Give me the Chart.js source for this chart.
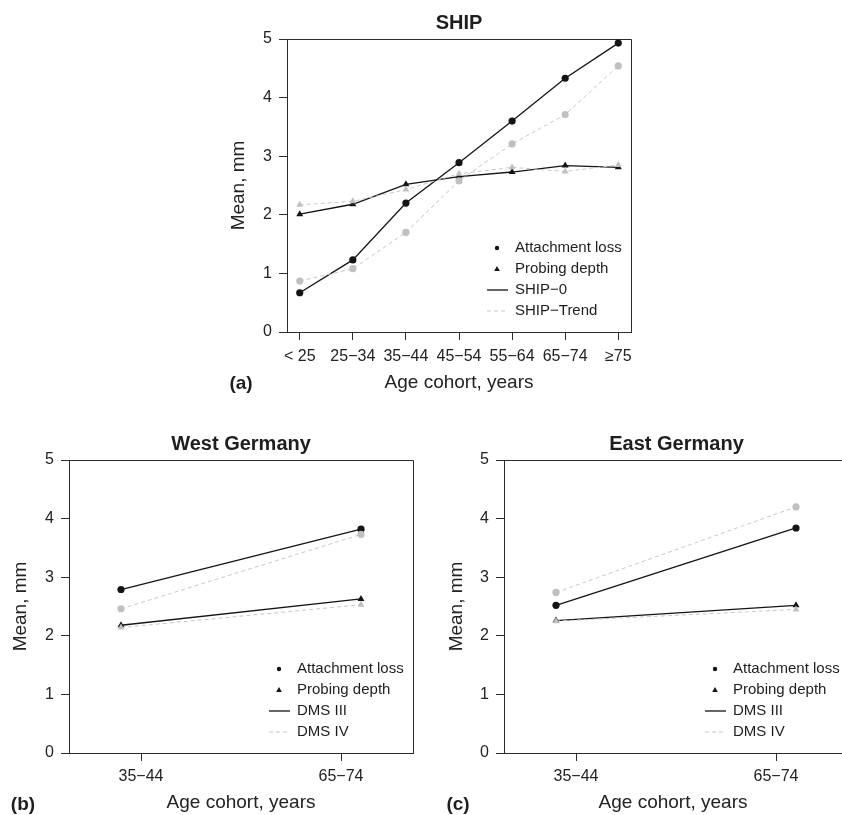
<!DOCTYPE html>
<html>
<head>
<meta charset="utf-8">
<script src="https://cdn.jsdelivr.net/npm/chart.js@4.4.0/dist/chart.umd.min.js"></script>
<style>
html, body { margin: 0; padding: 0; background: #fff; overflow: hidden; }
#wrap { position: relative; width: 842px; height: 815px; overflow: hidden; }
canvas { position: absolute; }
</style>
</head>
<body>
<div id="wrap">
  <canvas id="ship-chart" width="451" height="400" style="left:200px;top:0"></canvas>
  <canvas id="west-chart" width="440" height="405" style="left:0;top:410px"></canvas>
  <canvas id="east-chart" width="422" height="405" style="left:420px;top:410px"></canvas>
</div>
<script>
// DATA
const shipCats = ['< 25', '25\u221234', '35\u221244', '45\u221254', '55\u221264', '65\u221274', '\u226575'];
const shipTicks = [0, 1, 2, 3, 4, 5, 6];
const ship0Attach = [0.67, 1.23, 2.20, 2.89, 3.60, 4.33, 4.93];
const shipTrendAttach = [0.87, 1.08, 1.70, 2.58, 3.21, 3.71, 4.54];
const ship0Probing = [2.01, 2.18, 2.52, 2.65, 2.73, 2.84, 2.81];
const shipTrendProbing = [2.17, 2.23, 2.43, 2.70, 2.81, 2.74, 2.85];

const dmsCats = ['35\u221244', '65\u221274'];
const dmsTicks = [1, 2];
const dmsPoints = [0.9, 2.1]; // points sit a bit outside the tick marks
const westDms3Attach = [2.79, 3.82];
const westDms4Attach = [2.46, 3.73];
const westDms3Probing = [2.18, 2.63];
const westDms4Probing = [2.14, 2.53];
const eastDms3Attach = [2.52, 3.84];
const eastDms4Attach = [2.74, 4.20];
const eastDms3Probing = [2.26, 2.52];
const eastDms4Probing = [2.25, 2.45];

const yTicks = [0, 1, 2, 3, 4, 5];

Chart.defaults.font.family = "'Liberation Sans', Arial, sans-serif";
Chart.defaults.color = '#222';

const BLACK = '#141414';
const GREY = '#c0c0c0';
const AXIS = '#2b2b2b';

function series(label, xs, ys, color, shape, dashed) {
    return {
        label: label,
        data: ys.map((y, i) => ({ x: xs[i], y: y })),
        borderColor: dashed ? '#c8c8c8' : color,
        backgroundColor: color,
        borderWidth: dashed ? 1 : 1.3,
        borderDash: dashed ? [4, 3] : [],
        pointStyle: shape,
        pointRadius: shape === 'triangle' ? 4 : 3.6,
        pointBorderWidth: 0,
        pointBackgroundColor: color,
        tension: 0,
        fill: false
    };
}

// box, title, panel letter and legend
const overlay = {
    id: 'overlay',
    beforeDatasetsDraw(chart, args, opts) {
        const { ctx, chartArea: a } = chart;
        const l = Math.round(a.left) + 0.5;
        const t = Math.round(a.top) + 0.5;
        const r = Math.round(a.right) + 0.5;
        const b = Math.round(a.bottom) + 0.5;
        ctx.save();
        ctx.strokeStyle = AXIS;
        ctx.lineWidth = 1;
        ctx.beginPath();
        if (opts.openRight) {
            // right side of the box is off the page in the original
            ctx.moveTo(r, t); ctx.lineTo(l, t); ctx.lineTo(l, b); ctx.lineTo(r, b);
        } else {
            ctx.rect(l, t, r - l, b - t);
        }
        ctx.stroke();
        ctx.restore();
    },
    afterDraw(chart, args, opts) {
        const { ctx, chartArea: a } = chart;
        ctx.save();
        ctx.fillStyle = '#1e1e1e';
        ctx.textBaseline = 'middle';

        const boxRight = a.left + opts.boxWidth;
        ctx.textAlign = 'center';
        ctx.font = "bold 20px 'Liberation Sans', Arial, sans-serif";
        ctx.fillText(opts.title, (a.left + boxRight) / 2, a.top - 16);

        ctx.font = "bold 19px 'Liberation Sans', Arial, sans-serif";
        ctx.fillText(opts.panel, a.left - 46, a.bottom + 52);

        // legend
        const lx = boxRight - 134;
        const ly = a.bottom - 84;
        const gap = 21;
        ctx.fillStyle = BLACK;
        ctx.beginPath();
        ctx.arc(lx, ly, 2.2, 0, Math.PI * 2);
        ctx.fill();
        ctx.beginPath();
        ctx.moveTo(lx, ly + gap - 3);
        ctx.lineTo(lx + 2.8, ly + gap + 2);
        ctx.lineTo(lx - 2.8, ly + gap + 2);
        ctx.closePath();
        ctx.fill();

        ctx.strokeStyle = BLACK;
        ctx.lineWidth = 1.3;
        ctx.beginPath();
        ctx.moveTo(lx - 10, ly + gap * 2);
        ctx.lineTo(lx + 11, ly + gap * 2);
        ctx.stroke();
        ctx.strokeStyle = '#c8c8c8';
        ctx.lineWidth = 1;
        ctx.setLineDash([4, 3]);
        ctx.beginPath();
        ctx.moveTo(lx - 10, ly + gap * 3);
        ctx.lineTo(lx + 11, ly + gap * 3);
        ctx.stroke();
        ctx.setLineDash([]);

        ctx.fillStyle = '#1e1e1e';
        ctx.textAlign = 'left';
        ctx.font = "15px 'Liberation Sans', Arial, sans-serif";
        opts.labels.forEach((t, i) => ctx.fillText(t, lx + 18, ly + gap * i));
        ctx.restore();
    }
};

function makeScales(o) {
    return {
        x: {
            type: 'linear',
            min: o.xmin,
            max: o.xmax,
            afterBuildTicks: s => { s.ticks = o.ticks.map(v => ({ value: v })); },
            afterFit: s => { s.height = o.xh; },
            ticks: {
                callback: (v, i) => o.cats[i],
                padding: o.xpad,
                color: '#222',
                font: { size: 16 },
                maxRotation: 0,
                autoSkip: false
            },
            grid: { drawOnChartArea: false, tickLength: 8, color: AXIS },
            border: { color: AXIS },
            title: {
                display: true,
                text: 'Age cohort, years',
                color: '#222',
                font: { size: 19 },
                padding: { top: 0, bottom: o.xtp }
            }
        },
        y: {
            type: 'linear',
            min: 0,
            max: 5,
            afterBuildTicks: s => { s.ticks = yTicks.map(v => ({ value: v })); },
            afterFit: s => { s.width = o.yw; },
            ticks: { padding: 7, color: '#222', font: { size: 16 } },
            grid: { drawOnChartArea: false, tickLength: 8, color: AXIS },
            border: { color: AXIS },
            title: {
                display: true,
                text: 'Mean, mm',
                color: '#222',
                font: { size: 19 },
                padding: { top: o.ytp, bottom: 0 }
            }
        }
    };
}

function baseOptions(scales, padding, overlayOpts) {
    return {
        responsive: false,
        animation: false,
        events: [],
        layout: { padding: padding, autoPadding: false },
        scales: scales,
        plugins: {
            legend: { display: false },
            tooltip: { enabled: false },
            overlay: overlayOpts
        }
    };
}

function main() {
    const shipCanvas = document.querySelector('#ship-chart');
    const westCanvas = document.querySelector('#west-chart');
    const eastCanvas = document.querySelector('#east-chart');

    // grey datasets go first so they end up drawn on top
    new Chart(shipCanvas.getContext('2d'), {
        type: 'line',
        data: {
            datasets: [
                series('Probing SHIP-Trend', shipTicks, shipTrendProbing, GREY, 'triangle', true),
                series('Attachment SHIP-Trend', shipTicks, shipTrendAttach, GREY, 'circle', true),
                series('Probing SHIP-0', shipTicks, ship0Probing, BLACK, 'triangle', false),
                series('Attachment SHIP-0', shipTicks, ship0Attach, BLACK, 'circle', false)
            ]
        },
        options: baseOptions(
            makeScales({ xmin: -0.24, xmax: 6.24, ticks: shipTicks, cats: shipCats, xh: 68, xpad: 7, xtp: 6, yw: 87, ytp: 27 }),
            { top: 39, right: 20, left: 0, bottom: 0 },
            { title: 'SHIP', panel: '(a)', boxWidth: 344, labels: ['Attachment loss', 'Probing depth', 'SHIP\u22120', 'SHIP\u2212Trend'] }
        ),
        plugins: [overlay]
    });

    new Chart(westCanvas.getContext('2d'), {
        type: 'line',
        data: {
            datasets: [
                series('Probing DMS IV', dmsPoints, westDms4Probing, GREY, 'triangle', true),
                series('Attachment DMS IV', dmsPoints, westDms4Attach, GREY, 'circle', true),
                series('Probing DMS III', dmsPoints, westDms3Probing, BLACK, 'triangle', false),
                series('Attachment DMS III', dmsPoints, westDms3Attach, BLACK, 'circle', false)
            ]
        },
        options: baseOptions(
            makeScales({ xmin: 0.64, xmax: 2.36, ticks: dmsTicks, cats: dmsCats, xh: 62, xpad: 6, xtp: 1, yw: 69, ytp: 9 }),
            { top: 50, right: 27, left: 0, bottom: 0 },
            { title: 'West Germany', panel: '(b)', boxWidth: 344, labels: ['Attachment loss', 'Probing depth', 'DMS III', 'DMS IV'] }
        ),
        plugins: [overlay]
    });

    // the east panel runs past the page edge, so the axis stops at the edge
    new Chart(eastCanvas.getContext('2d'), {
        type: 'line',
        data: {
            datasets: [
                series('Probing DMS IV', dmsPoints, eastDms4Probing, GREY, 'triangle', true),
                series('Attachment DMS IV', dmsPoints, eastDms4Attach, GREY, 'circle', true),
                series('Probing DMS III', dmsPoints, eastDms3Probing, BLACK, 'triangle', false),
                series('Attachment DMS III', dmsPoints, eastDms3Attach, BLACK, 'circle', false)
            ]
        },
        options: baseOptions(
            makeScales({ xmin: 0.64, xmax: 2.33, ticks: dmsTicks, cats: dmsCats, xh: 62, xpad: 6, xtp: 1, yw: 84, ytp: 25 }),
            { top: 50, right: 0, left: 0, bottom: 0 },
            { title: 'East Germany', panel: '(c)', boxWidth: 345, openRight: true, labels: ['Attachment loss', 'Probing depth', 'DMS III', 'DMS IV'] }
        ),
        plugins: [overlay]
    });
}

main();
</script>
</body>
</html>
